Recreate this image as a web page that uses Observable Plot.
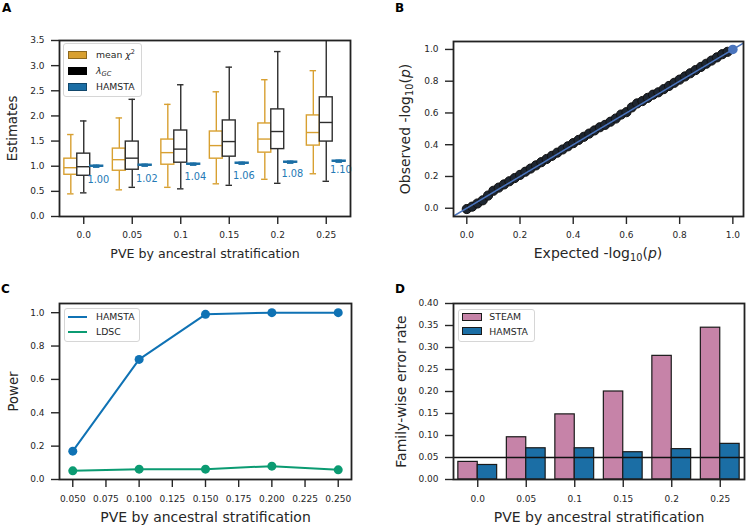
<!DOCTYPE html>
<html><head><meta charset="utf-8">
<script src="https://cdn.jsdelivr.net/npm/d3@7"></script>
<script src="https://cdn.jsdelivr.net/npm/@observablehq/plot@0.6"></script>
<style>
body{margin:0;background:#fff;font-family:"DejaVu Sans",sans-serif;}
#fig{position:relative;width:747px;height:526px;overflow:hidden;background:#fff;}
#fig svg{position:absolute;}
#fig g[aria-label="x-axis tick"], #fig g[aria-label="y-axis tick"]{stroke-width:1.4px;}
.plab{position:absolute;font-weight:bold;font-size:12px;line-height:12px;color:#000;}
.legend{position:absolute;background:#fff;border:1px solid #d6d6d6;border-radius:3px;box-sizing:border-box;}
.ltxt{position:absolute;font-size:9.3px;line-height:9.3px;color:#262626;white-space:nowrap;}
.ltxt sup{font-size:70%;vertical-align:top;position:relative;top:-2px;}
.ltxt sub{font-size:72%;vertical-align:baseline;position:relative;top:2px;}
.patch{position:absolute;box-sizing:border-box;}
.lline{position:absolute;height:2px;}
.alab{position:absolute;font-size:14px;line-height:14px;color:#262626;white-space:nowrap;text-align:center;}
.alab sub{font-size:70%;vertical-align:baseline;position:relative;top:3px;}
</style>
</head><body>
<div id="fig"></div>
<script>
// ---------- shared ----------
const pveCats = ["0.0", "0.05", "0.1", "0.15", "0.2", "0.25"];

// ---------- Panel A: estimates ----------
const chi2Low   = [0.45, 0.53, 0.58, 0.65, 0.74, 0.85];
const chi2Q1    = [0.83, 0.91, 1.03, 1.15, 1.27, 1.41];
const chi2Med   = [0.97, 1.13, 1.27, 1.41, 1.54, 1.67];
const chi2Q3    = [1.15, 1.35, 1.53, 1.69, 1.85, 2.01];
const chi2High  = [1.63, 1.96, 2.23, 2.48, 2.72, 2.90];

const lambdaLow  = [0.47, 0.58, 0.55, 0.62, 0.66, 0.70];
const lambdaQ1   = [0.81, 0.93, 1.07, 1.19, 1.34, 1.49];
const lambdaMed  = [0.99, 1.16, 1.34, 1.49, 1.69, 1.87];
const lambdaQ3   = [1.25, 1.49, 1.71, 1.91, 2.13, 2.37];
const lambdaHigh = [1.90, 2.33, 2.62, 2.97, 3.28, 3.60];

const hamstaLow  = [0.98, 1.00, 1.02, 1.04, 1.06, 1.08];
const hamstaQ1   = [0.99, 1.01, 1.03, 1.05, 1.07, 1.09];
const hamstaMed  = [1.00, 1.02, 1.04, 1.06, 1.08, 1.10];
const hamstaQ3   = [1.01, 1.03, 1.05, 1.07, 1.09, 1.11];
const hamstaHigh = [1.02, 1.04, 1.06, 1.08, 1.10, 1.12];
const hamstaLabelY = [0.72, 0.74, 0.79, 0.80, 0.84, 0.92];
const aYTicks = [0, 0.5, 1.0, 1.5, 2.0, 2.5, 3.0, 3.5];

// ---------- Panel B: QQ ----------
const qqExpected = [0.00,0.02,0.04,0.06,0.08,0.10,0.12,0.14,0.16,0.18,0.20,0.22,0.24,0.26,0.28,0.30,0.32,0.34,0.36,0.38,0.40,0.42,0.44,0.46,0.48,0.50,0.52,0.54,0.56,0.58,0.60,0.62,0.64,0.66,0.68,0.70,0.72,0.74,0.76,0.78,0.80,0.82,0.84,0.86,0.88,0.90,0.92,0.94,0.96,0.98,1.00];
const qqObserved = [-0.005,0.01,0.03,0.05,0.08,0.11,0.13,0.15,0.17,0.19,0.21,0.23,0.25,0.27,0.29,0.31,0.33,0.35,0.37,0.39,0.41,0.43,0.45,0.47,0.49,0.51,0.525,0.545,0.565,0.59,0.605,0.635,0.66,0.675,0.695,0.715,0.73,0.75,0.77,0.79,0.81,0.83,0.85,0.87,0.89,0.91,0.93,0.95,0.97,0.985,1.00];
const qqDiagonal = [-0.1, 1.1];
const bTicks = [0, 0.2, 0.4, 0.6, 0.8, 1.0];

// ---------- Panel C: power ----------
const powerPve    = [0.05, 0.10, 0.15, 0.20, 0.25];
const powerHamsta = [0.17, 0.72, 0.99, 1.00, 1.00];
const powerLdsc   = [0.052, 0.062, 0.062, 0.080, 0.058];
const cXTicks = [0.05, 0.075, 0.1, 0.125, 0.15, 0.175, 0.2, 0.225, 0.25];
const cYTicks = [0, 0.2, 0.4, 0.6, 0.8, 1.0];

// ---------- Panel D: FWER ----------
const fwerSteam  = [0.040, 0.096, 0.148, 0.200, 0.281, 0.345];
const fwerHamsta = [0.033, 0.071, 0.071, 0.062, 0.069, 0.081];
const fwerThreshold = [0.05];
const dYTicks = [0, 0.05, 0.10, 0.15, 0.20, 0.25, 0.30, 0.35, 0.40];

// ---------- colours ----------
const ORANGE = "#d8a031", DARK = "#2e2e2e", BLUE_BOX = "#1b6ea5", LABEL_BLUE = "#2479b5";
const QQ_BLUE = "#4a74bd";
const C_BLUE = "#0f72b4", C_GREEN = "#0b9b72";
const PINK = "#c683a8", D_BLUE = "#1b6ea5";

const fig = document.getElementById("fig");
const baseStyle = {fontFamily: "DejaVu Sans", fontSize: "9px", color: "#262626", background: "transparent", overflow: "visible"};
function place(svg, left, top) { svg.style.left = left + "px"; svg.style.top = top + "px"; fig.appendChild(svg); }
const frameMark = () => Plot.frame({stroke: "#222", strokeWidth: 1.8});
const xLabel = (t, dy, fs) => Plot.text([t], {text: d => d, frameAnchor: "bottom", dy, fontSize: fs, textAnchor: "middle", lineAnchor: "middle"});
const yLabel = (t, dx, fs) => Plot.text([t], {text: d => d, frameAnchor: "left", dx, rotate: -90, fontSize: fs, textAnchor: "middle", lineAnchor: "middle"});

// ---------- Panel A ----------
const hueW = 0.8 / 3;
const boxSeries = [
  {off: -1, stroke: ORANGE, fill: "white", low: chi2Low, q1: chi2Q1, med: chi2Med, q3: chi2Q3, high: chi2High},
  {off: 0, stroke: DARK, fill: "white", low: lambdaLow, q1: lambdaQ1, med: lambdaMed, q3: lambdaQ3, high: lambdaHigh},
  {off: 1, stroke: BLUE_BOX, fill: BLUE_BOX, low: hamstaLow, q1: hamstaQ1, med: hamstaMed, q3: hamstaQ3, high: hamstaHigh}
];
const boxMarks = boxSeries.flatMap(s => {
  const rows = pveCats.map((c, i) => ({x: i + s.off * hueW, low: s.low[i], q1: s.q1[i], med: s.med[i], q3: s.q3[i], high: s.high[i]}));
  const sw = 1.4;
  return [
    Plot.ruleX(rows, {x: "x", y1: "low", y2: "q1", stroke: s.stroke, strokeWidth: sw, clip: true}),
    Plot.ruleX(rows, {x: "x", y1: "q3", y2: "high", stroke: s.stroke, strokeWidth: sw, clip: true}),
    Plot.ruleY(rows, {y: "low", x1: d => d.x - hueW / 4, x2: d => d.x + hueW / 4, stroke: s.stroke, strokeWidth: sw, clip: true}),
    Plot.ruleY(rows, {y: "high", x1: d => d.x - hueW / 4, x2: d => d.x + hueW / 4, stroke: s.stroke, strokeWidth: sw, clip: true}),
    Plot.rect(rows, {x1: d => d.x - hueW / 2, x2: d => d.x + hueW / 2, y1: "q1", y2: "q3", fill: s.fill, stroke: s.stroke, strokeWidth: sw}),
    Plot.ruleY(rows, {y: "med", x1: d => d.x - hueW / 2, x2: d => d.x + hueW / 2, stroke: s.stroke, strokeWidth: sw})
  ];
});
const hamstaLabels = pveCats.map((c, i) => ({x: i + 0.3, y: hamstaLabelY[i], v: hamstaMed[i]}));
const plotA = Plot.plot({
  width: 370, height: 262, marginLeft: 59, marginRight: 20, marginTop: 40, marginBottom: 46,
  style: baseStyle,
  x: {type: "linear", domain: [-0.5, pveCats.length - 0.5], ticks: pveCats.map((c, i) => i), tickFormat: i => pveCats[i], tickSize: 8, tickPadding: 7, label: null},
  y: {domain: [0, 3.5], ticks: aYTicks, tickFormat: d3.format(".1f"), tickSize: 8, tickPadding: 7, label: null},
  marks: [
    ...boxMarks,
    Plot.text(hamstaLabels, {x: "x", y: "y", text: d => d3.format(".2f")(d.v), fill: LABEL_BLUE, fontSize: 9.8}),
    xLabel("PVE by ancestral stratification", 37.3, 12.6),
    yLabel("Estimates", -46.5, 13.3),
    frameMark()
  ]
});
place(plotA, 0, 0);

// ---------- Panel B ----------
const qqRows = qqExpected.map((e, i) => ({e, o: qqObserved[i]}));
const plotB = Plot.plot({
  width: 377, height: 262, marginLeft: 83, marginRight: 4, marginTop: 41, marginBottom: 46,
  style: baseStyle,
  x: {domain: [-0.05, 1.04], ticks: bTicks, tickFormat: d3.format(".1f"), tickSize: 8, tickPadding: 7, label: null},
  y: {domain: [-0.052, 1.05], ticks: bTicks, tickFormat: d3.format(".1f"), tickSize: 8, tickPadding: 7, label: null},
  marks: [
    Plot.dot(qqRows.slice(0, -1), {x: "e", y: "o", r: 4.6, fill: "#1d2530", stroke: "#111", strokeWidth: 1, clip: true}),
    Plot.line(qqDiagonal.map(v => ({v})), {x: "v", y: "v", stroke: QQ_BLUE, strokeWidth: 1.5, clip: true}),
    Plot.dot(qqRows.slice(-1), {x: "e", y: "o", r: 4.8, fill: QQ_BLUE}),
    frameMark()
  ]
});
place(plotB, 370, 0);

// ---------- Panel C ----------
const powerRows = (vals) => powerPve.map((x, i) => ({x, y: vals[i]}));
const plotC = Plot.plot({
  width: 370, height: 264, marginLeft: 59, marginRight: 19, marginTop: 41, marginBottom: 47,
  style: baseStyle,
  x: {domain: [0.04, 0.26], ticks: cXTicks, tickFormat: d3.format(".3f"), tickSize: 8, tickPadding: 8, label: null},
  y: {domain: [0, 1.055], ticks: cYTicks, tickFormat: d3.format(".1f"), tickSize: 8, tickPadding: 7, label: null},
  marks: [
    Plot.line(powerRows(powerHamsta), {x: "x", y: "y", stroke: C_BLUE, strokeWidth: 2}),
    Plot.dot(powerRows(powerHamsta), {x: "x", y: "y", r: 4.5, fill: C_BLUE}),
    Plot.line(powerRows(powerLdsc), {x: "x", y: "y", stroke: C_GREEN, strokeWidth: 2}),
    Plot.dot(powerRows(powerLdsc), {x: "x", y: "y", r: 4.5, fill: C_GREEN}),
    xLabel("PVE by ancestral stratification", 37.7, 14),
    yLabel("Power", -45.3, 13.2),
    frameMark()
  ]
});
place(plotC, 0, 262);

// ---------- Panel D ----------
const steamRows = pveCats.map((c, i) => ({x1: i - 0.4, x2: i, y: fwerSteam[i]}));
const hamstaRows = pveCats.map((c, i) => ({x1: i, x2: i + 0.4, y: fwerHamsta[i]}));
const plotD = Plot.plot({
  width: 377, height: 264, marginLeft: 83, marginRight: 3, marginTop: 41, marginBottom: 47,
  style: baseStyle,
  x: {type: "linear", domain: [-0.5, pveCats.length - 0.5], ticks: pveCats.map((c, i) => i), tickFormat: i => pveCats[i], tickSize: 8, tickPadding: 8, label: null},
  y: {domain: [0, 0.4], ticks: dYTicks, tickFormat: d3.format(".2f"), tickSize: 8, tickPadding: 7, label: null},
  marks: [
    Plot.rectY(steamRows, {x1: "x1", x2: "x2", y: "y", fill: PINK, stroke: "#1a1a1a", strokeWidth: 1.2}),
    Plot.rectY(hamstaRows, {x1: "x1", x2: "x2", y: "y", fill: D_BLUE, stroke: "#1a1a1a", strokeWidth: 1.2}),
    Plot.ruleY(fwerThreshold, {stroke: "#111", strokeWidth: 1.6}),
    xLabel("PVE by ancestral stratification", 37.7, 14),
    yLabel("Family-wise error rate", -52.3, 14),
    frameMark()
  ]
});
place(plotD, 370, 262);

// ---------- HTML overlays: panel letters, legends, B axis labels ----------
function el(cls, css, html) {
  const d = document.createElement("div");
  d.className = cls; Object.assign(d.style, css); if (html != null) d.innerHTML = html; fig.appendChild(d); return d;
}
[["A", 2, 2], ["B", 395, 2], ["C", 1, 283], ["D", 395, 283]].forEach(([t, x, y]) => el("plab", {left: x + "px", top: y + "px"}, t));

// Legend A
el("legend", {left: "63px", top: "43px", width: "79px", height: "54px"});
[[55, ORANGE, "mean <i>χ</i><sup>2</sup>"], [71, "#000", "<i>λ</i><sub><i>GC</i></sub>"], [86.5, BLUE_BOX, "HAMSTA"]].forEach(([cy, col, txt]) => {
  el("patch", {left: "68px", top: (cy - 4) + "px", width: "19px", height: "8px", background: col, border: "1px solid rgba(0,0,0,0.35)"});
  el("ltxt", {left: "96px", top: (cy - 4.6) + "px"}, txt);
});
// Legend C
el("legend", {left: "64px", top: "307.5px", width: "76px", height: "34px"});
[[316.7, C_BLUE, "HAMSTA"], [332, C_GREEN, "LDSC"]].forEach(([cy, col, txt]) => {
  el("lline", {left: "68px", top: (cy - 1) + "px", width: "19px", background: col});
  el("ltxt", {left: "96px", top: (cy - 4.6) + "px"}, txt);
});
// Legend D
el("legend", {left: "457.5px", top: "308.5px", width: "77px", height: "33px"});
[[316.7, PINK, "STEAM"], [331.3, D_BLUE, "HAMSTA"]].forEach(([cy, col, txt]) => {
  el("patch", {left: "461.7px", top: (cy - 4) + "px", width: "20px", height: "8px", background: col, border: "1px solid #1a1a1a"});
  el("ltxt", {left: "489.3px", top: (cy - 4.6) + "px"}, txt);
});
// Panel B axis labels
el("alab", {left: (598 - 120) + "px", top: "246px", width: "240px"}, "Expected -log<sub>10</sub>(<i>p</i>)");
el("alab", {left: (406 - 120) + "px", top: (128 - 7) + "px", width: "240px", transform: "rotate(-90deg)", transformOrigin: "50% 50%"}, "Observed -log<sub>10</sub>(<i>p</i>)");
</script>
</body></html>
